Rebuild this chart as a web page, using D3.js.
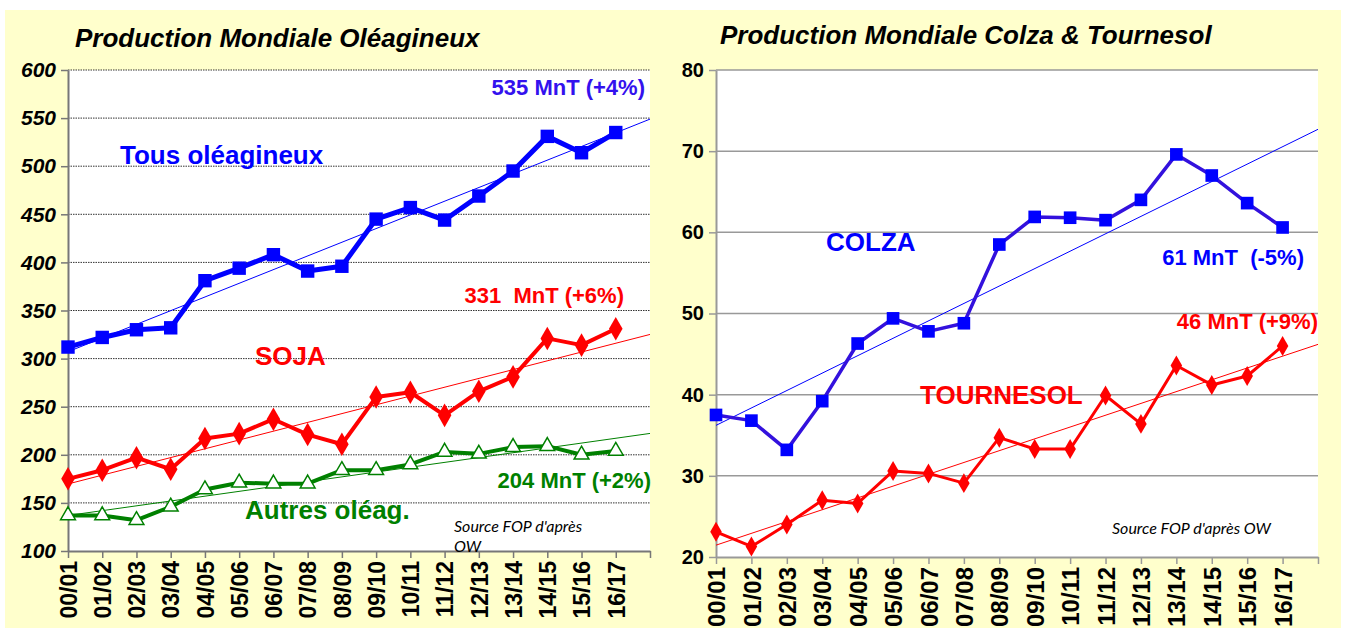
<!DOCTYPE html>
<html><head><meta charset="utf-8">
<script src="https://cdn.jsdelivr.net/npm/d3@7"></script>
<style>body{margin:0;background:#fff;}svg{display:block;}</style>
</head><body>
<svg id="c" width="1346" height="628"></svg>
<script>
const categories = ["00/01","01/02","02/03","03/04","04/05","05/06","06/07","07/08","08/09","09/10","10/11","11/12","12/13","13/14","14/15","15/16","16/17"];
const tousOleagineux = [312,322,330,332,381,394,408,391,396,445,457,444,469,495,531,514,535];
const soja = [175,184,197,185,217,222,237,221,211,260,265,241,266,281,321,314,331];
const autresOleag = [137,137,132,146,164,171,170,170,184,184,190,203,201,208,209,200,204];
const leftTicks = [100,150,200,250,300,350,400,450,500,550,600];
const colza = [37.5,36.8,33.2,39.2,46.3,49.4,47.8,48.8,58.5,61.9,61.8,61.5,64.0,69.6,67.0,63.6,60.6];
const tournesol = [23.1,21.3,24.0,27.0,26.6,30.6,30.3,29.1,34.7,33.3,33.3,39.9,36.4,43.6,41.2,42.3,46.0];
const rightTicks = [20,30,40,50,60,70,80];

const FONT = "Liberation Sans, Arial, sans-serif";
const svg = d3.select("#c");
svg.append("rect").attr("x",5).attr("y",10).attr("width",1336).attr("height",618).attr("fill","#FFFFCC");

function regression(vals){
  const n=vals.length; const xs=d3.range(n);
  const mx=d3.mean(xs), my=d3.mean(vals);
  let num=0,den=0; xs.forEach((x,i)=>{num+=(x-mx)*(vals[i]-my);den+=(x-mx)*(x-mx);});
  const b=num/den, a=my-b*mx; return x=>a+b*x;
}

function drawPanel(cfg){
  const g = svg.append("g");
  const x = d3.scaleLinear().domain([0,categories.length]).range([cfg.x0,cfg.x1]);
  const y = d3.scaleLinear().domain(cfg.yDomain).range([cfg.y1,cfg.y0]);
  g.append("rect").attr("x",cfg.x0).attr("y",cfg.y0).attr("width",cfg.x1-cfg.x0).attr("height",cfg.y1-cfg.y0).attr("fill","#fff");
  cfg.ticks.forEach(t=>{
    if(t===cfg.yDomain[0]) return;
    g.append("line").attr("x1",cfg.x0).attr("x2",cfg.x1).attr("y1",y(t)).attr("y2",y(t))
      .attr("stroke",cfg.gridColor).attr("stroke-width",cfg.gridWidth).attr("stroke-dasharray",cfg.gridDash);
  });
  const ya = g.append("g").attr("transform",`translate(${cfg.x0},0)`).call(d3.axisLeft(y).tickValues(cfg.ticks).tickSize(7).tickSizeOuter(0).tickPadding(5));
  ya.select(".domain").attr("stroke",cfg.axisColor).attr("stroke-width",2);
  ya.selectAll(".tick line").attr("stroke",cfg.axisColor).attr("stroke-width",1.5);
  ya.selectAll("text").attr("font-family",FONT).attr("font-weight","bold")
    .attr("font-style",cfg.yItalic?"italic":"normal").attr("font-size",cfg.yFont).attr("fill","#000");
  const xa = g.append("g").attr("transform",`translate(0,${cfg.y1})`).call(d3.axisBottom(x).tickValues(d3.range(categories.length+1)).tickSize(7).tickSizeOuter(0).tickFormat(i=>categories[i]||""));
  xa.select(".domain").attr("stroke",cfg.axisColor).attr("stroke-width",2);
  xa.selectAll(".tick line").attr("stroke",cfg.axisColor).attr("stroke-width",1.5);
  xa.selectAll("text").attr("font-family",FONT).attr("font-weight","bold").attr("font-size",cfg.xFont).attr("fill","#000")
    .attr("transform","rotate(-90)").attr("text-anchor","end").attr("dy","0.36em").attr("x",-cfg.xGap).attr("y",0);
  cfg.series.forEach(s=>{
    const f = regression(s.values);
    g.append("line").attr("x1",x(0)).attr("y1",y(f(0))).attr("x2",x(categories.length)).attr("y2",y(f(categories.length)))
      .attr("stroke",s.color).attr("stroke-width",1);
    const line = d3.line().x((d,i)=>x(i)).y(d=>y(d));
    g.append("path").datum(s.values).attr("d",line).attr("fill","none").attr("stroke",s.lineColor||s.color).attr("stroke-width",s.width).attr("stroke-linejoin","round");
    const sym = d3.symbol().type(s.symbol).size(s.size);
    g.selectAll(null).data(s.values).enter().append("path")
      .attr("d",sym).attr("transform",(d,i)=>`translate(${x(i)},${y(d)})`)
      .attr("fill",s.fill).attr("stroke",s.stroke||"none").attr("stroke-width",1.5);
  });
  svg.append("text").attr("x",cfg.titleX).attr("y",cfg.titleY).text(cfg.title)
    .attr("font-family",FONT).attr("font-weight","bold").attr("font-style","italic").attr("font-size",cfg.titleSize).attr("fill","#000");
  cfg.labels.forEach(l=>{
    svg.append("text").attr("x",l.x).attr("y",l.y).text(l.t).attr("text-anchor",l.anchor||"start")
      .attr("font-family",l.family||FONT).attr("font-weight",l.weight||"bold").attr("font-style",l.style||"normal")
      .attr("font-size",l.size).attr("fill",l.color).style("white-space","pre");
  });
}

drawPanel({
  x0:68,x1:650,y0:70,y1:551,yDomain:[100,600],ticks:leftTicks,
  gridColor:"#333",gridWidth:1,gridDash:"1.5,1",axisColor:"#777",yItalic:true,yFont:21,xFont:23,xGap:10,
  title:"Production Mondiale Oléagineux",titleX:75,titleY:47,titleSize:26,
  series:[
    {values:tousOleagineux,color:"#0000FF",width:5,symbol:d3.symbolSquare,size:180,fill:"#0000FF"},
    {values:soja,color:"#FF0000",width:4,symbol:d3.symbolDiamond,size:160,fill:"#FF0000"},
    {values:autresOleag,color:"#008000",width:4,symbol:d3.symbolTriangle,size:95,fill:"#fff",stroke:"#008000"}
  ],
  labels:[
    {t:"535 MnT (+4%)",x:645,y:95,anchor:"end",size:22,color:"#3311EE"},
    {t:"Tous oléagineux",x:120,y:164,size:26,color:"#0000FF"},
    {t:"331  MnT (+6%)",x:624,y:303,anchor:"end",size:22,color:"#FF0000"},
    {t:"SOJA",x:255,y:365,size:26,color:"#FF0000"},
    {t:"204 MnT (+2%)",x:651,y:488,anchor:"end",size:22,color:"#008000"},
    {t:"Autres oléag.",x:245,y:519,size:26,color:"#008000"},
    {t:"Source FOP d'après",x:454,y:532,size:16,color:"#000",weight:"normal",style:"italic",family:"Lato, sans-serif"},
    {t:"OW",x:454,y:552,size:16,color:"#000",weight:"normal",style:"italic",family:"Lato, sans-serif"}
  ]
});

drawPanel({
  x0:716,x1:1318,y0:70,y1:557,yDomain:[20,80],ticks:rightTicks,
  gridColor:"#999",gridWidth:1.5,gridDash:null,axisColor:"#999",yItalic:false,yFont:20,xFont:24,xGap:10,
  title:"Production Mondiale Colza & Tournesol",titleX:720,titleY:44,titleSize:26,
  series:[
    {values:colza,color:"#0000FF",lineColor:"#3311DD",width:3.5,symbol:d3.symbolSquare,size:160,fill:"#0000FF"},
    {values:tournesol,color:"#FF0000",width:3,symbol:d3.symbolDiamond,size:115,fill:"#FF0000"}
  ],
  labels:[
    {t:"COLZA",x:826,y:251,size:26,color:"#0000FF"},
    {t:"61 MnT  (-5%)",x:1304,y:265,anchor:"end",size:22,color:"#0000FF"},
    {t:"46 MnT (+9%)",x:1318,y:329,anchor:"end",size:22,color:"#FF0000"},
    {t:"TOURNESOL",x:920,y:404,size:26,color:"#FF0000"},
    {t:"Source FOP d'après OW",x:1112,y:534,size:16,color:"#000",weight:"normal",style:"italic",family:"Lato, sans-serif"}
  ]
});
</script>
</body></html>
